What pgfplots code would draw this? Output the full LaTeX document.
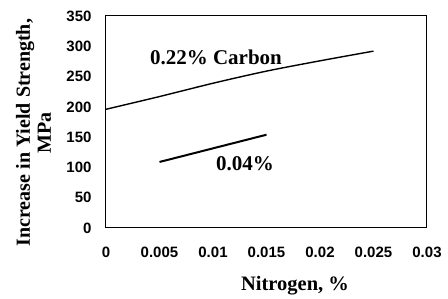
\documentclass[border=0pt]{standalone}
\usepackage{pgfplots}
\pgfplotsset{compat=1.18}
\usepackage{fontspec}
\setmainfont{Liberation Serif}
\newfontfamily\arialf{Liberation Sans}
\begin{document}
\begin{tikzpicture}[x=1pt,y=1pt]
\begin{axis}[
  scale only axis,
  width=321pt, height=212pt,
  xmin=0, xmax=0.03, ymin=0, ymax=350,
  axis line style={line width=1pt},
  major tick length=0pt,
  scaled x ticks=false,
  xtick={0,0.005,0.01,0.015,0.02,0.025,0.03},
  xticklabels={0,0.005,0.01,0.015,0.02,0.025,0.03},
  ytick={0,50,100,150,200,250,300,350},
  /pgf/number format/assume math mode=true,
  tick label style={font=\fontsize{15}{17}\arialf\bfseries},
  x tick label style={yshift=-15pt},
  y tick label style={xshift=-11pt},
  xlabel={Nitrogen, \%},
  xlabel style={font=\fontsize{20.5}{22}\bfseries, at={(axis description cs:0.589,-0.27)}, anchor=center},
  ylabel={Increase in Yield Strength,\\MPa},
  ylabel style={font=\fontsize{20}{21}\bfseries, align=center, at={(axis description cs:-0.226,0.45)}, anchor=center},
]
\addplot[black, line width=1.4pt, smooth] coordinates {(0,196) (0.005,217) (0.01,239) (0.015,259) (0.02,276) (0.025,292)};
\addplot[black, line width=2pt] coordinates {(0.005,109) (0.015,154)};
\node[font=\fontsize{21}{23}\bfseries] at (axis cs:0.01028,282) {0.22\% Carbon};
\node[font=\fontsize{21}{23}\bfseries] at (axis cs:0.0130,107) {0.04\%};
\end{axis}
\path[use as bounding box] (current axis.south west) ++(-106pt,-71pt) rectangle ++(448pt,299pt);
\end{tikzpicture}
\end{document}
